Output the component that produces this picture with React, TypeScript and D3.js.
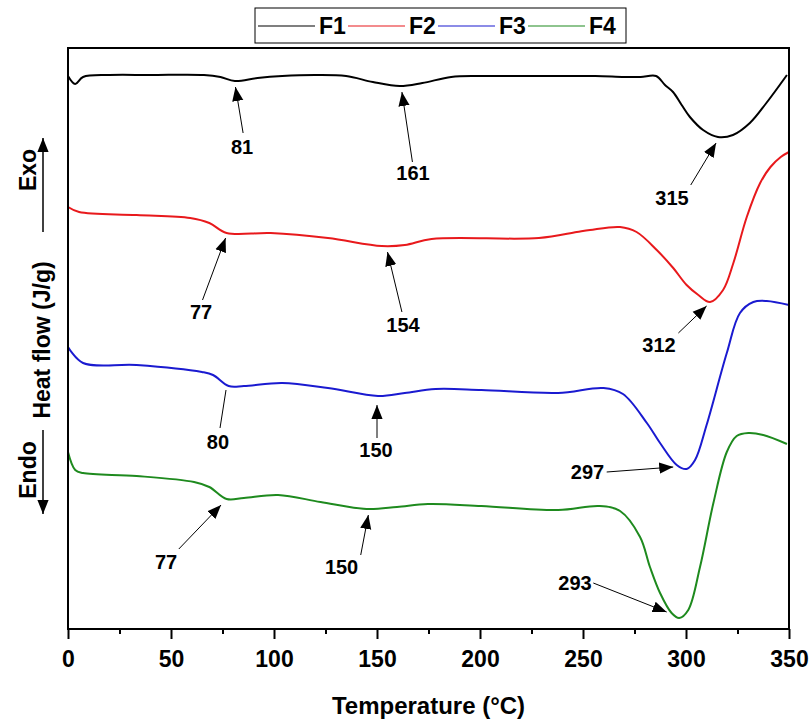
import React from "react";
import * as d3 from "d3";

// temperatures (°C) and heat flow (arbitrary units, curves stacked)
const f1Temp = [0, 3.5, 7.3, 20, 40, 66, 74, 81, 92, 104, 120, 135, 148, 161, 172, 186, 200, 230, 256, 270, 278, 285.5, 289.8, 293.7, 297.9, 301.9, 308.3, 315.5, 322.8, 331, 339, 349];
const f1Flow = [55.3, 54.5, 55.2, 55.4, 55.4, 55.4, 55.2, 54.8, 55.1, 55.3, 55.4, 55.3, 54.7, 54.3, 54.6, 55.2, 55.3, 55.3, 55.3, 55.2, 55.2, 55.3, 54.4, 53.7, 52.4, 51.2, 49.9, 49.2, 49.4, 50.6, 52.6, 55.4];

const f2Temp = [0, 5.4, 33.3, 59.3, 68.6, 77, 98.4, 126.2, 152.3, 163.5, 176.5, 228.6, 247, 253.4, 268, 276, 285.8, 293.8, 300.3, 306, 311.7, 318, 323, 329.5, 336, 341, 346, 350];
const f2Flow = [42.2, 41.7, 41.4, 41.1, 40.6, 39.6, 39.6, 39.1, 38.3, 38.4, 39.0, 39.1, 39.7, 39.9, 40.2, 39.7, 37.9, 36.1, 34.4, 33.4, 32.7, 33.9, 36.6, 41.2, 44.6, 46.2, 47.2, 47.7];

const f3Temp = [0, 7.3, 33.3, 65, 70.4, 78, 85.4, 104, 126.2, 150.5, 163.5, 178.4, 200.7, 237.9, 260, 269.4, 281, 287.4, 295.5, 300.3, 304.4, 310, 319.8, 326.2, 332.7, 339.2, 350];
const f3Flow = [28.2, 26.6, 26.4, 25.7, 25.4, 24.3, 24.3, 24.6, 24.1, 23.3, 23.6, 24.0, 23.9, 23.6, 24.1, 23.5, 20.6, 18.6, 16.4, 16.0, 16.9, 20.4, 27.6, 31.6, 32.7, 32.8, 32.4];

const f4Temp = [0, 3.5, 7.3, 33.3, 61.2, 68.6, 77, 85.4, 102, 122.6, 144.9, 159.7, 174.7, 200.7, 238, 258, 268, 277.7, 282.5, 287.4, 293, 296.7, 301.1, 306.8, 313.3, 319.8, 324.6, 330.3, 337.5, 349];
const f4Flow = [17.7, 15.9, 15.6, 15.3, 14.7, 14.2, 13.0, 13.1, 13.4, 12.7, 12.0, 12.2, 12.5, 12.3, 11.9, 12.3, 11.8, 9.2, 6.2, 3.6, 1.6, 1.1, 1.9, 6.2, 12.6, 17.7, 19.3, 19.6, 19.4, 18.5];

const seriesNames = ["F1", "F2", "F3", "F4"];
const seriesColors = ["#000000", "#e8191c", "#1a1ad0", "#1e8a1e"];

// peak annotations: label, label position, arrow tail, arrow tip
const annText = ["81", "161", "315", "77", "154", "312", "80", "150", "297", "77", "150", "293"];
const annLabelT = [84.5, 167.5, 293.2, 64.6, 162.6, 286.9, 72.8, 149.5, 252.2, 47.6, 132.8, 246.1];
const annLabelV = [48.2, 45.6, 43.1, 31.7, 30.4, 28.4, 18.7, 17.9, 15.7, 6.7, 6.2, 4.6];
const annTailT = [85, 167.2, 302.3, 65.3, 162.1, 296.3, 73.8, 150, 261.5, 53.8, 142.1, 255];
const annTailV = [49.6, 46.7, 44.4, 32.9, 31.7, 29.6, 20.1, 19.1, 15.7, 8.0, 7.4, 4.6];
const annTipT = [81.3, 162.1, 314.6, 76.5, 155.1, 310, 76.7, 150, 293.8, 74.3, 145.8, 290.6];
const annTipV = [54.2, 53.7, 48.6, 39.1, 37.7, 32.3, 23.9, 22.4, 16.2, 12.4, 11.4, 1.7];
const annHead = [true, true, true, true, true, true, false, true, true, true, true, true];

const xTicks = [0, 50, 100, 150, 200, 250, 300, 350];

const FONT = "'Liberation Sans', Arial, sans-serif";

export default function App() {
  const svgRef = React.useRef<SVGSVGElement>(null);

  React.useEffect(() => {
    const width = 811;
    const height = 721;
    const svg = d3.select(svgRef.current);
    svg.selectAll("*").remove();
    svg.attr("width", width).attr("height", height);

    const left = 68;
    const right = 789;
    const top = 48;
    const bottom = 629;

    const x = d3.scaleLinear().domain([0, 350]).range([left, right]);
    const y = d3.scaleLinear().domain([0, 58.1]).range([bottom, top]);

    const defs = svg.append("defs");
    defs
      .append("marker")
      .attr("id", "head")
      .attr("viewBox", "0 0 10 10")
      .attr("refX", 10)
      .attr("refY", 5)
      .attr("markerWidth", 14)
      .attr("markerHeight", 14)
      .attr("markerUnits", "userSpaceOnUse")
      .attr("orient", "auto")
      .append("path")
      .attr("d", "M0,1 L10,5 L0,9 Z")
      .attr("fill", "#000");

    svg.append("rect").attr("width", width).attr("height", height).attr("fill", "#fff");

    // curves
    const temps = [f1Temp, f2Temp, f3Temp, f4Temp];
    const flows = [f1Flow, f2Flow, f3Flow, f4Flow];
    const line = d3
      .line<[number, number]>()
      .x((d) => x(d[0]))
      .y((d) => y(d[1]))
      .curve(d3.curveCatmullRom.alpha(0.5));

    temps.forEach((t, i) => {
      const pts = t.map((v, j) => [v, flows[i][j]] as [number, number]);
      svg
        .append("path")
        .datum(pts)
        .attr("d", line)
        .attr("fill", "none")
        .attr("stroke", seriesColors[i])
        .attr("stroke-width", 2);
    });

    // frame
    svg
      .append("rect")
      .attr("x", left)
      .attr("y", top)
      .attr("width", right - left)
      .attr("height", bottom - top)
      .attr("fill", "none")
      .attr("stroke", "#000")
      .attr("stroke-width", 2);

    // bottom axis: minor then major
    const minor = svg
      .append("g")
      .attr("transform", `translate(0,${bottom})`)
      .call(
        d3
          .axisBottom(x)
          .tickValues(d3.range(25, 350, 50))
          .tickSize(5)
          .tickSizeOuter(0)
          .tickFormat(() => "")
      );
    minor.select(".domain").remove();
    minor.selectAll("line").attr("stroke-width", 2);

    const major = svg
      .append("g")
      .attr("transform", `translate(0,${bottom})`)
      .call(d3.axisBottom(x).tickValues(xTicks).tickSize(10).tickSizeOuter(0).tickPadding(12));
    major.select(".domain").remove();
    major.selectAll("line").attr("stroke-width", 2);
    major
      .selectAll("text")
      .attr("font-family", FONT)
      .attr("font-weight", "bold")
      .attr("font-size", 23)
      .attr("fill", "#000");

    svg
      .append("text")
      .attr("x", (left + right) / 2)
      .attr("y", 714)
      .attr("text-anchor", "middle")
      .attr("font-family", FONT)
      .attr("font-weight", "bold")
      .attr("font-size", 24)
      .text("Temperature (°C)");

    // y title with Exo / Endo arrows
    const yt = svg.append("g").attr("font-family", FONT).attr("font-weight", "bold");
    yt.append("text")
      .attr("transform", "translate(50,340) rotate(-90)")
      .attr("text-anchor", "middle")
      .attr("font-size", 23)
      .text("Heat flow (J/g)");
    yt.append("text")
      .attr("transform", "translate(36,170) rotate(-90)")
      .attr("text-anchor", "middle")
      .attr("font-size", 23)
      .text("Exo");
    yt.append("text")
      .attr("transform", "translate(36,470) rotate(-90)")
      .attr("text-anchor", "middle")
      .attr("font-size", 23)
      .text("Endo");
    yt.append("line")
      .attr("x1", 43).attr("y1", 232).attr("x2", 43).attr("y2", 138)
      .attr("stroke", "#000").attr("stroke-width", 1.5)
      .attr("marker-end", "url(#head)");
    yt.append("line")
      .attr("x1", 43).attr("y1", 430).attr("x2", 43).attr("y2", 514)
      .attr("stroke", "#000").attr("stroke-width", 1.5)
      .attr("marker-end", "url(#head)");

    // annotations
    annText.forEach((label, i) => {
      svg
        .append("line")
        .attr("x1", x(annTailT[i]))
        .attr("y1", y(annTailV[i]))
        .attr("x2", x(annTipT[i]))
        .attr("y2", y(annTipV[i]))
        .attr("stroke", "#000")
        .attr("stroke-width", 1)
        .attr("marker-end", annHead[i] ? "url(#head)" : null);
      svg
        .append("text")
        .attr("x", x(annLabelT[i]))
        .attr("y", y(annLabelV[i]))
        .attr("dy", "0.36em")
        .attr("text-anchor", "middle")
        .attr("font-family", FONT)
        .attr("font-weight", "bold")
        .attr("font-size", 20)
        .text(label);
    });

    // legend
    const lg = svg.append("g");
    lg.append("rect")
      .attr("x", 255)
      .attr("y", 8)
      .attr("width", 371)
      .attr("height", 35)
      .attr("fill", "#fff")
      .attr("stroke", "#000")
      .attr("stroke-width", 1);
    const itemX = d3.scaleLinear().domain([0, 1]).range([258, 348]);
    seriesNames.forEach((name, i) => {
      const x0 = itemX(i);
      lg.append("line")
        .attr("x1", x0)
        .attr("x2", x0 + 57)
        .attr("y1", 26)
        .attr("y2", 26)
        .attr("stroke", seriesColors[i])
        .attr("stroke-width", 1.2);
      lg.append("text")
        .attr("x", x0 + 61)
        .attr("y", 26)
        .attr("dy", "0.36em")
        .attr("font-family", FONT)
        .attr("font-weight", "bold")
        .attr("font-size", 23)
        .text(name);
    });
  }, []);

  return <svg ref={svgRef} style={{ position: "absolute", left: 0, top: 0, display: "block" }} />;
}
